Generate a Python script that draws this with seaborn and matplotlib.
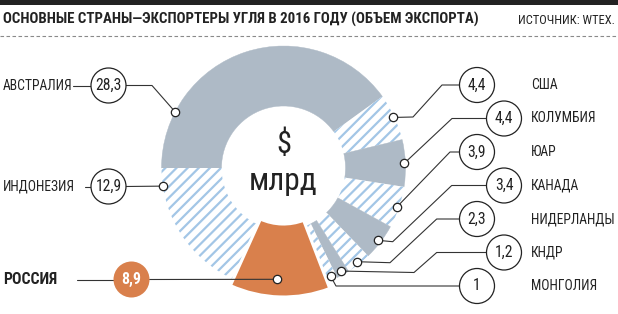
import matplotlib
matplotlib.use("Agg")
import matplotlib.pyplot as plt
from matplotlib import font_manager as fm
import seaborn as sns
import numpy as np
from matplotlib.patches import Circle, Rectangle

# ---------------- data ----------------
countries = ["АВСТРАЛИЯ", "ИНДОНЕЗИЯ", "РОССИЯ", "США", "КОЛУМБИЯ",
             "ЮАР", "КАНАДА", "НИДЕРЛАНДЫ", "КНДР", "МОНГОЛИЯ"]
values = [28.3, 12.9, 8.9, 4.4, 4.4, 3.9, 3.4, 2.3, 1.2, 1.0]
value_labels = ["28,3", "12,9", "8,9", "4,4", "4,4", "3,9", "3,4", "2,3", "1,2", "1"]
title = "ОСНОВНЫЕ СТРАНЫ—ЭКСПОРТЕРЫ УГЛЯ В 2016 ГОДУ (ОБЪЕМ ЭКСПОРТА)"
source = "ИСТОЧНИК: WTEX."
center_top = "$"
center_bottom = "млрд"

# order of wedges clockwise around the ring starting at 9 o'clock
ring_order = ["АВСТРАЛИЯ", "США", "КОЛУМБИЯ", "ЮАР", "КАНАДА",
              "НИДЕРЛАНДЫ", "КНДР", "МОНГОЛИЯ", "РОССИЯ", "ИНДОНЕЗИЯ"]
ring_style = ["gray", "hatch", "gray", "hatch", "gray",
              "hatch", "gray", "hatch", "russia", "hatch"]

# ---------------- fonts ----------------
sns.set_theme(style="white")
entries = fm.fontManager.ttflist
names = {f.name for f in entries}
STRETCH = "normal"
NARROW = None
for cand in ["Roboto Condensed", "Liberation Sans Narrow", "Arial Narrow",
             "Open Sans Condensed", "Noto Sans Condensed"]:
    if cand in names:
        NARROW = cand
        break
if NARROW is None:
    if any(f.name == "DejaVu Sans" and f.stretch in ("condensed", "semi-condensed")
           for f in entries):
        NARROW, STRETCH = "DejaVu Sans", "condensed"
    else:
        NARROW = "Liberation Sans"
plt.rcParams["font.family"] = [NARROW, "DejaVu Sans"]
plt.rcParams["font.stretch"] = STRETCH
plt.rcParams["hatch.linewidth"] = 1.6

GRAY = "#AEBAC6"
HATCH = "#A3C6E6"
ORANGE = "#D9804C"
INK = "#222222"

W, H = 618, 314
fig = plt.figure(figsize=(W / 100, H / 100), dpi=100)
ax = fig.add_axes([0, 0, 1, 1])


def Y(y):
    return H - y


CX, CY = 283.5, 168.0
R, RIN = 122.0, 62.0
R_RU, RIN_RU = 129.0, 56.0

vals = [values[countries.index(c)] for c in ring_order]
wedges, _ = ax.pie(vals, startangle=180, counterclock=False, radius=R,
                   center=(CX, Y(CY)),
                   wedgeprops=dict(width=R - RIN, linewidth=0))

for w, st in zip(wedges, ring_style):
    if st == "gray":
        w.set_facecolor(GRAY)
        w.set_edgecolor(GRAY)
        w.set_linewidth(0.3)
    elif st == "hatch":
        w.set_facecolor("white")
        w.set_edgecolor(HATCH)
        w.set_hatch("///")
        w.set_linewidth(0)
    else:
        w.set_facecolor(ORANGE)
        w.set_edgecolor("white")
        w.set_linewidth(2.2)
        w.set_radius(R_RU)
        w.set_width(R_RU - RIN_RU)
        w.set_zorder(3)

ax.set_xlim(0, W)
ax.set_ylim(0, H)
ax.set_aspect("equal")
ax.axis("off")

fig.canvas.draw()
renderer = fig.canvas.get_renderer()


def fit(t, target):
    w = t.get_window_extent(renderer).width
    t.set_fontsize(t.get_fontsize() * target / w)
    return t.get_fontsize()


# ---------------- header ----------------
ax.add_patch(Rectangle((0, Y(4.5)), W, 4.5, color=INK, lw=0, zorder=5))
ax.plot([0, W], [Y(35.5), Y(35.5)], color="#8a8a8a", lw=0.8,
        ls=(0, (3.2, 2.2)), zorder=5)
t = ax.text(3, Y(19.5), title, fontsize=10.6, fontweight="bold", color=INK,
            ha="left", va="center")
fit(t, 475)
ax.text(615, Y(20.5), source, fontsize=9.0, color=INK, ha="right",
        va="center")

# center text
ax.text(CX, Y(144), center_top, fontsize=22, color=INK, ha="center",
        va="center", parse_math=False)
t = ax.text(CX, Y(181), center_bottom, fontsize=24, color=INK, ha="center",
            va="center")
fit(t, 69)

# font sizes for labels / numbers
probe = ax.text(0, 0, "АВСТРАЛИЯ", fontsize=10)
LABEL_FS = fit(probe, 65) * 1.07
probe.remove()
probe = ax.text(0, 0, "РОССИЯ", fontsize=10, fontweight="bold")
RU_FS = fit(probe, 54)
probe.remove()
probe = ax.text(0, 0, "28,3", fontsize=10)
NUM_FS = fit(probe, 25) * 1.04
probe.remove()

# ---------------- callouts ----------------
def anchor(name, frac, rad):
    w = wedges[ring_order.index(name)]
    ang = np.deg2rad(w.theta2 - frac * (w.theta2 - w.theta1))
    return CX + rad * np.cos(ang), Y(CY) + rad * np.sin(ang)


CR = 17.5
LINE = dict(color="#333333", lw=0.8, zorder=6)

# name -> (anchor frac, anchor radius, circle x, circle y(px), elbows(px), side)
layout = {
    "АВСТРАЛИЯ": (0.19, 122, 108.5, 85.5, [(152, 85.5)], "L"),
    "ИНДОНЕЗИЯ": (0.87, 122, 108.5, 186.5, [], "L"),
    "РОССИЯ": (0.54, 111.5, 131.5, 279.5, [], "L"),
    "США": (0.5, 121, 477, 85, [(442, 85), (413, 117)], "R"),
    "КОЛУМБИЯ": (0.5, 121, 504, 118.5, [(452, 118.5)], "R"),
    "ЮАР": (0.5, 120, 477, 152, [(450, 152)], "R"),
    "КАНАДА": (0.5, 119, 504, 185.5, [(451.7, 185.5), (392.7, 241.7)], "R"),
    "НИДЕРЛАНДЫ": (0.5, 119, 477, 219, [(436.7, 219), (390, 262.7)], "R"),
    "КНДР": (0.5, 118, 504, 252.5, [(436.7, 252.5), (414, 272.5)], "R"),
    "МОНГОЛИЯ": (0.5, 118, 477, 286, [(336, 286)], "R"),
}

for name, (frac, rad, cx, cy, elbows, side) in layout.items():
    i = countries.index(name)
    ax_, ay_ = anchor(name, frac, rad)
    is_ru = name == "РОССИЯ"
    cr = 18 if is_ru else CR
    start = (cx + cr, Y(cy)) if side == "L" else (cx - cr, Y(cy))
    pts = [start] + [(ex, Y(ey)) for ex, ey in elbows] + [(ax_, ay_)]
    xs, ys = zip(*pts)
    ax.plot(xs, ys, **LINE)
    ax.plot([ax_], [ay_], marker="o", ms=6, mfc="white", mec="#222222",
            mew=0.9, zorder=8)
    if is_ru:
        ax.add_patch(Circle((cx, Y(cy)), cr, fc=ORANGE, ec="none", zorder=7))
        ax.text(cx, Y(cy), value_labels[i], fontsize=NUM_FS * 1.02,
                fontweight="bold", color="white", ha="center", va="center",
                zorder=9)
    else:
        ax.add_patch(Circle((cx, Y(cy)), cr, fc="white", ec="#222222",
                            lw=0.9, zorder=7))
        ax.text(cx, Y(cy), value_labels[i], fontsize=NUM_FS, color=INK,
                ha="center", va="center", zorder=9)
    if side == "L":
        if is_ru:
            ax.text(3, Y(cy), name, fontsize=RU_FS, fontweight="bold",
                    color=INK, ha="left", va="center")
            ax.plot([77, cx - cr], [Y(cy), Y(cy)], **LINE)
        else:
            ax.text(3, Y(cy), name, fontsize=LABEL_FS, color=INK, ha="left",
                    va="center")
            lx0 = 73 if name == "АВСТРАЛИЯ" else 85
            ax.plot([lx0, cx - cr], [Y(cy), Y(cy)], **LINE)
    else:
        ax.text(531, Y(cy), name, fontsize=LABEL_FS, color=INK, ha="left",
                va="center")

fig.savefig("out.png", dpi=100)
